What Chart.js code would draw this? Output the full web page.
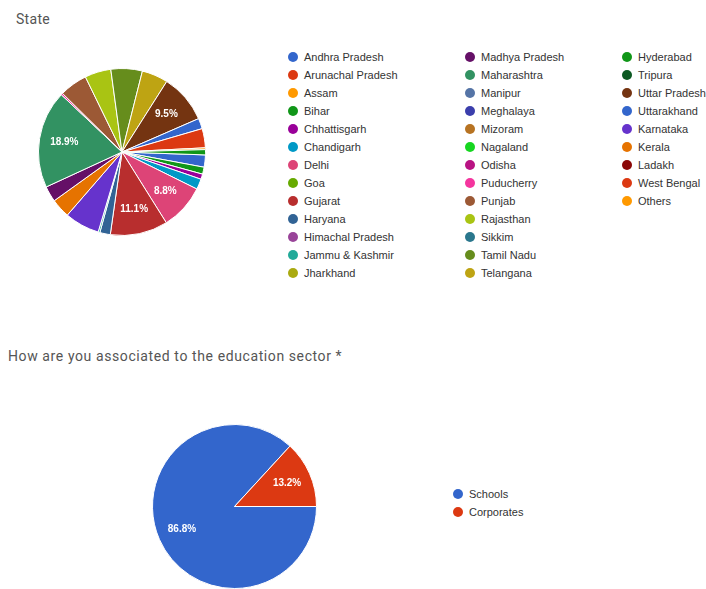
<!DOCTYPE html>
<html>
<head>
<meta charset="utf-8">
<script src="https://cdn.jsdelivr.net/npm/chart.js@4.4.0/dist/chart.umd.min.js"></script>
<style>
  body { margin: 0; width: 706px; height: 589px; background: #fff; overflow: hidden; position: relative; font-family: Roboto, Arial, sans-serif; }
  .title { position: absolute; color: #555; font-size: 14px; letter-spacing: 0.6px; white-space: nowrap; }
  .box { position: absolute; }
  .legend { position: absolute; left: 0; top: 0; font-family: "Liberation Sans", Arial, sans-serif; font-size: 11px; color: #333; }
  .legend .item { position: absolute; white-space: nowrap; height: 18px; line-height: 18px; }
  .legend .dot { position: absolute; left: 0; top: 4px; width: 10px; height: 10px; border-radius: 50%; }
  .legend .txt { position: absolute; left: 16px; top: 0; }
</style>
</head>
<body>
<div class="title" style="left:16px; top:11px; letter-spacing:0.3px;">State</div>
<div class="box" style="left:38px; top:68px; width:168px; height:168px;"><canvas id="stateChart"></canvas></div>
<div class="legend" id="stateLegend"></div>

<div class="title" style="left:8px; top:348px;">How are you associated to the education sector *</div>
<div class="box" style="left:152px; top:424px; width:165px; height:165px;"><canvas id="sectorChart"></canvas></div>
<div class="legend" id="sectorLegend"></div>

<script>
// State responses, in the order the slices run round the pie (clockwise)
const states = [
  "Andhra Pradesh", "Arunachal Pradesh", "Assam", "Bihar", "Chhattisgarh", "Chandigarh",
  "Delhi", "Goa", "Gujarat", "Haryana", "Himachal Pradesh", "Jammu & Kashmir", "Jharkhand",
  "Karnataka", "Kerala", "Ladakh", "Madhya Pradesh", "Maharashtra", "Manipur", "Meghalaya",
  "Mizoram", "Nagaland", "Odisha", "Puducherry", "Punjab", "Rajasthan", "Sikkim", "Tamil Nadu",
  "Telangana", "Tripura", "Uttar Pradesh", "Uttarakhand", "West Bengal", "Others", "Hyderabad",
];
const stateCounts = [
  7, 0, 0, 4, 3, 6,
  26, 0, 33, 6, 0, 1, 0,
  20, 11, 0, 9, 56, 0, 0,
  0, 0, 0, 1, 16, 15, 0, 18,
  15, 0, 28, 6, 11, 1, 3,
];
const stateColors = [
  "#3366cc", "#dc3912", "#ff9900", "#109618", "#990099", "#0099c6",
  "#dd4477", "#66aa00", "#b82e2e", "#316395", "#994499", "#22aa99", "#aaaa11",
  "#6633cc", "#e67300", "#8b0707", "#651067", "#329262", "#5574a6", "#3b3eac",
  "#b77322", "#16d620", "#b91383", "#f4359e", "#9c5935", "#a9c413", "#2a778d", "#668d1c",
  "#bea413", "#0c5922", "#743411", "#3366cc", "#dc3912", "#ff9900", "#109618",
];
// order the options are listed in the legend (3 columns)
const legendColumns = [
  ["Andhra Pradesh", "Arunachal Pradesh", "Assam", "Bihar", "Chhattisgarh", "Chandigarh", "Delhi",
   "Goa", "Gujarat", "Haryana", "Himachal Pradesh", "Jammu & Kashmir", "Jharkhand"],
  ["Madhya Pradesh", "Maharashtra", "Manipur", "Meghalaya", "Mizoram", "Nagaland", "Odisha",
   "Puducherry", "Punjab", "Rajasthan", "Sikkim", "Tamil Nadu", "Telangana"],
  ["Hyderabad", "Tripura", "Uttar Pradesh", "Uttarakhand", "Karnataka", "Kerala", "Ladakh",
   "West Bengal", "Others"],
];

// Education sector question
const sectors = ["Schools", "Corporates"];
const sectorCounts = [257, 39];
const sectorColors = ["#3366cc", "#dc3912"];

// Percentage text inside the bigger slices
const sliceLabels = {
  id: "sliceLabels",
  afterDatasetsDraw(chart) {
    const ctx = chart.ctx;
    const data = chart.data.datasets[0].data;
    const total = data.reduce((a, b) => a + b, 0);
    chart.getDatasetMeta(0).data.forEach((arc, i) => {
      const pct = (data[i] / total) * 100;
      if (pct < 8) return;
      const p = arc.getProps(["x", "y", "startAngle", "endAngle", "outerRadius"], true);
      const mid = (p.startAngle + p.endAngle) / 2;
      const r = p.outerRadius * 0.7;
      ctx.save();
      ctx.fillStyle = "#fff";
      ctx.font = "bold 10px 'Liberation Sans', Arial, sans-serif";
      ctx.textAlign = "center";
      ctx.textBaseline = "middle";
      ctx.fillText(pct.toFixed(1) + "%", p.x + Math.cos(mid) * r, p.y + Math.sin(mid) * r);
      ctx.restore();
    });
  },
};

function makePie(id, labels, values, colors, rotation) {
  return new Chart(document.getElementById(id), {
    type: "pie",
    data: {
      labels: labels,
      datasets: [{
        data: values,
        backgroundColor: colors,
        borderColor: "#fff",
        borderWidth: 1,
        hoverOffset: 0,
      }],
    },
    options: {
      responsive: true,
      maintainAspectRatio: false,
      animation: false,
      rotation: rotation,
      layout: { padding: 0 },
      plugins: {
        legend: { display: false },
        tooltip: { enabled: false },
      },
    },
    plugins: [sliceLabels],
  });
}

// HTML legend built from the chart's own legend items
function buildLegend(chart, el, columns, colX, top, rowH) {
  const items = chart.options.plugins.legend.labels.generateLabels(chart);
  columns.forEach((col, c) => {
    col.forEach((name, r) => {
      const item = items.find((it) => it.text === name);
      const div = document.createElement("div");
      div.className = "item";
      div.style.left = colX[c] + "px";
      div.style.top = (top + r * rowH) + "px";
      div.innerHTML = '<span class="dot" style="background:' + item.fillStyle + '"></span><span class="txt"></span>';
      div.querySelector(".txt").textContent = name;
      el.appendChild(div);
    });
  });
}

const stateChart = makePie("stateChart", states, stateCounts, stateColors, 92);
buildLegend(stateChart, document.getElementById("stateLegend"), legendColumns, [288, 465, 622], 48, 18);

const sectorChart = makePie("sectorChart", sectors, sectorCounts, sectorColors, 90);
buildLegend(sectorChart, document.getElementById("sectorLegend"), [sectors], [453], 485, 18);
</script>
</body>
</html>
